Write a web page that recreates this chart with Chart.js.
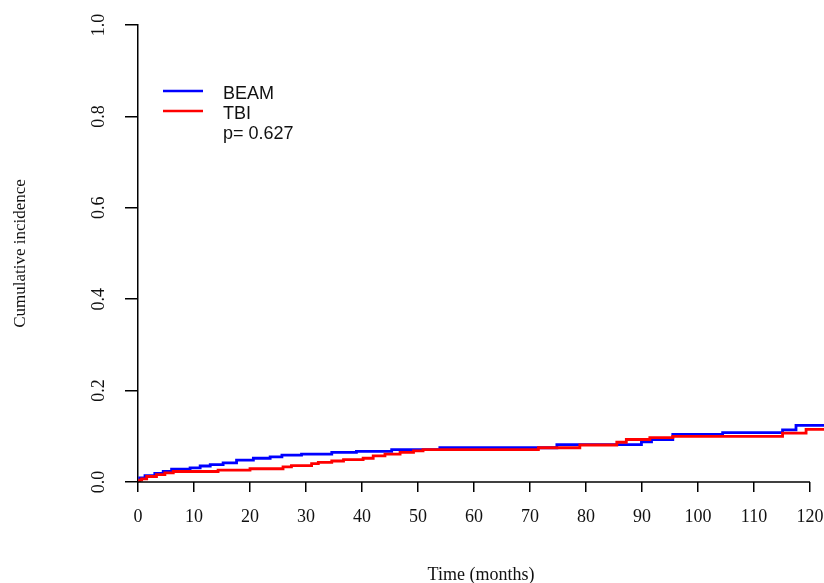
<!DOCTYPE html>
<html>
<head>
<meta charset="utf-8">
<script src="https://cdn.jsdelivr.net/npm/chart.js@4.4.1/dist/chart.umd.min.js"></script>
<style>
  body { margin: 0; background: #fff; }
  #wrap { width: 824px; height: 583px; }
</style>
</head>
<body>
<div id="wrap"><canvas id="myChart" width="824" height="583"></canvas></div>
<script>
// step times (months) and cumulative incidence after each step
var beamTimes  = [0, 0.3, 1.25, 3.0, 4.5, 6.0, 9.3, 11.1, 12.9, 15.2, 17.6, 20.6, 23.6, 25.7, 29.2, 34.6, 39.0, 45.3, 53.9, 74.8, 89.9, 91.7, 95.5, 104.4, 115.1, 117.5, 123];
var beamValues = [0, 0.009, 0.014, 0.019, 0.023, 0.028, 0.031, 0.035, 0.038, 0.042, 0.048, 0.052, 0.055, 0.059, 0.061, 0.065, 0.067, 0.071, 0.075, 0.082, 0.088, 0.093, 0.104, 0.108, 0.114, 0.124, 0.124];

var tbiTimes  = [0, 0.3, 0.65, 1.55, 3.3, 4.8, 6.3, 14.3, 20.0, 25.9, 27.4, 31.0, 32.2, 34.6, 36.7, 40.2, 42.0, 44.1, 46.8, 49.2, 50.9, 71.5, 78.9, 85.5, 87.2, 91.4, 95.5, 115.1, 119.3, 123];
var tbiValues = [0, 0.004, 0.007, 0.012, 0.016, 0.020, 0.023, 0.026, 0.029, 0.033, 0.036, 0.040, 0.043, 0.046, 0.049, 0.052, 0.057, 0.061, 0.065, 0.068, 0.071, 0.075, 0.081, 0.087, 0.093, 0.097, 0.100, 0.107, 0.115, 0.117];

var yTicks = [0, 0.2, 0.4, 0.6, 0.8, 1.0];
var xTicks = [0, 10, 20, 30, 40, 50, 60, 70, 80, 90, 100, 110, 120];
var pValueText = "p= 0.627";

function toPoints(times, values) {
    return times.map(function(t, i){ return {x: t, y: values[i]}; });
}

// R style bottom axis: line only from first to last tick
var axisLinePlugin = {
    id: 'axisLine',
    afterDraw: function(chart) {
        var ctx = chart.ctx;
        var xs = chart.scales.x;
        var y0 = chart.scales.y.getPixelForValue(0);
        ctx.save();
        ctx.strokeStyle = '#000';
        ctx.lineWidth = 1.5;
        ctx.beginPath();
        ctx.moveTo(xs.getPixelForValue(xTicks[0]), y0);
        ctx.lineTo(xs.getPixelForValue(xTicks[xTicks.length - 1]), y0);
        ctx.stroke();
        ctx.restore();
    }
};

// legend in the top left of the plot
var insideLegendPlugin = {
    id: 'insideLegend',
    afterDraw: function(chart) {
        var ctx = chart.ctx;
        var sets = chart.data.datasets;
        ctx.save();
        ctx.font = '18px "Liberation Sans", Arial, sans-serif';
        ctx.textBaseline = 'middle';
        ctx.fillStyle = '#111';
        for (var i = 0; i < sets.length; i++) {
            var y = 91 + i * 20;
            ctx.strokeStyle = sets[i].borderColor;
            ctx.lineWidth = 2.5;
            ctx.beginPath();
            ctx.moveTo(163, y);
            ctx.lineTo(203, y);
            ctx.stroke();
            ctx.fillText(sets[i].label, 223, y + 3);
        }
        ctx.fillText(pValueText, 223, 91 + sets.length * 20 + 3);
        ctx.restore();
    }
};

var data = {
    datasets: [{
        label: 'BEAM',
        borderColor: '#0000ff',
        backgroundColor: '#0000ff',
        data: toPoints(beamTimes, beamValues),
        order: 1
    }, {
        label: 'TBI',
        borderColor: '#ff0000',
        backgroundColor: '#ff0000',
        data: toPoints(tbiTimes, tbiValues),
        order: 0
    }]
};

var serif = '"Liberation Serif", "Times New Roman", serif';

var config = {
    type: 'line',
    data: data,
    options: {
        responsive: false,
        animation: false,
        layout: { padding: { top: 25, right: 0, left: 0, bottom: 0 } },
        elements: {
            line: { stepped: true, borderWidth: 2.8, tension: 0 },
            point: { radius: 0 }
        },
        plugins: {
            legend: { display: false },
            tooltip: { enabled: false }
        },
        scales: {
            x: {
                type: 'linear',
                min: 0,
                max: 122.5,
                afterFit: function(scale){
                    scale.height = 101;
                    // let the last label run off the edge like the original
                    scale.paddingRight = 0;
                    scale.paddingLeft = 0;
                },
                afterBuildTicks: function(scale){
                    scale.ticks = xTicks.map(function(v){ return {value: v}; });
                },
                ticks: {
                    font: { family: serif, size: 18 },
                    color: '#111',
                    padding: 14,
                    maxRotation: 0
                },
                grid: { drawOnChartArea: false, tickLength: 10, color: '#000', lineWidth: 1.5 },
                border: { display: false },
                title: {
                    display: true,
                    text: 'Time (months)',
                    font: { family: serif, size: 18, lineHeight: 1.0 },
                    color: '#111',
                    padding: { top: 0, bottom: -1 }
                }
            },
            y: {
                min: 0,
                max: 1,
                afterFit: function(scale){ scale.width = 138; },
                afterBuildTicks: function(scale){
                    scale.ticks = yTicks.map(function(v){ return {value: v}; });
                },
                ticks: {
                    font: { family: serif, size: 18 },
                    color: '#111',
                    minRotation: 90,
                    maxRotation: 90,
                    crossAlign: 'center',
                    padding: 14,
                    callback: function(v){ return v.toFixed(1); }
                },
                grid: { drawOnChartArea: false, tickLength: 13, color: '#000', lineWidth: 1.5 },
                border: { color: '#000', width: 1.5 },
                title: {
                    display: true,
                    text: 'Cumulative incidence',
                    font: { family: serif, size: 17, lineHeight: 1.2 },
                    color: '#111',
                    padding: { top: 10, bottom: 0 }
                }
            }
        }
    },
    plugins: [axisLinePlugin, insideLegendPlugin]
};

var myChart = new Chart(document.getElementById('myChart'), config);
</script>
</body>
</html>
